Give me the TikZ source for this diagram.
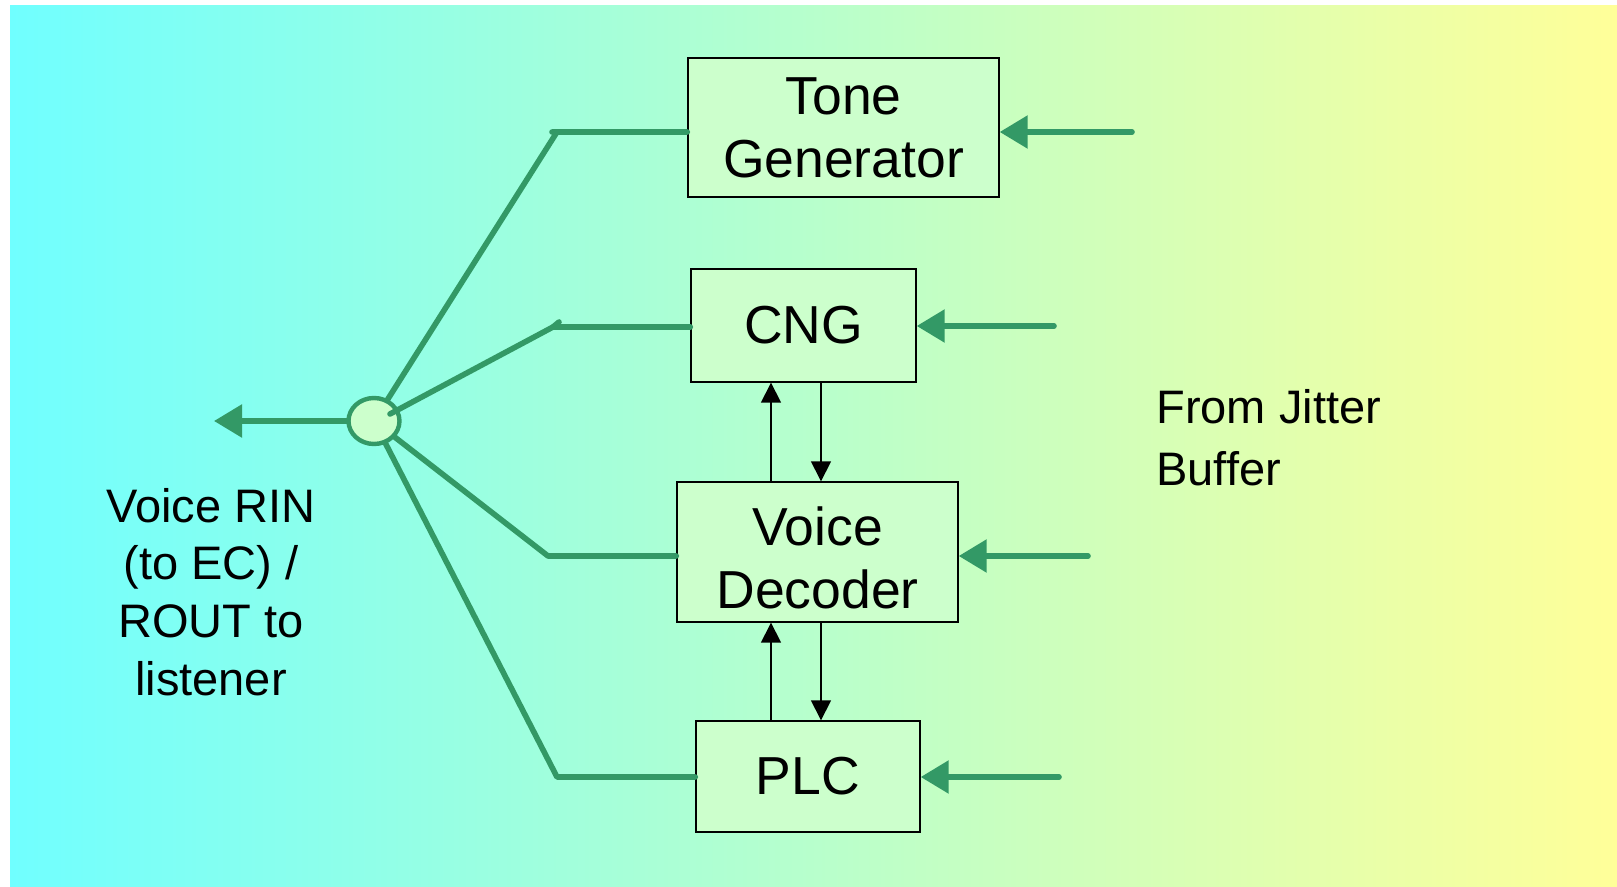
\documentclass[tikz,border=0pt]{standalone}
\usepackage{fontspec}
\setmainfont{Liberation Sans}
\usetikzlibrary{calc, arrows.meta, shapes.geometric}

\definecolor{bgcyan}{HTML}{70FFFF}
\definecolor{bgmid}{HTML}{B8FFCC}
\definecolor{bgyellow}{HTML}{FFFF99}
\definecolor{boxgreen}{HTML}{CCFFCC}
\definecolor{linegreen}{HTML}{339966}

\begin{document}
\begin{tikzpicture}[x=0.5pt, y=-0.5pt,
  block/.style={draw, line width=0.7pt, fill=boxgreen, align=center, inner sep=0pt,
    font=\fontsize{26.75}{31.5}\selectfont},
  feed/.style={color=linegreen, line width=2.8pt, line cap=round, line join=round},
  feedin/.style={feed, -{Triangle[length=14pt, width=16pt]}},
  ctl/.style={line width=0.8pt, -{Triangle[length=10pt, width=10pt]}},
  sidetext/.style={align=center, inner sep=0pt, font=\fontsize{23.5}{28.9}\selectfont}]

  \useasboundingbox (0,0) rectangle (1617,887);
  \shade[left color=bgcyan, middle color=bgmid, right color=bgyellow] (10,6) rectangle (1617,886);

  % playout blocks
  \node[block, minimum width=155.5pt, minimum height=69.5pt] (tone) at (843.5,127.5) {Tone\\Generator};
  \node[block, minimum width=112.5pt, minimum height=56.5pt] (cng) at (803.5,325.5) {CNG};
  \node[block, minimum width=140.5pt, minimum height=70pt] (dec) at (817.5,552)
    {\rule{0pt}{25pt}Voice\\Decoder};
  \node[block, minimum width=112pt, minimum height=55.5pt] (plc) at (808,776.5) {PLC};

  % summing point
  \node[ellipse, draw=linegreen, line width=2.2pt, fill=boxgreen, minimum width=25.5pt,
    minimum height=23pt, inner sep=0pt] (hub) at (374,421) {};

  \coordinate (out) at (214,421);
  \coordinate (kTone) at (557,132);
  \coordinate (kCng) at (553,327);
  \coordinate (kDec) at (548,556);
  \coordinate (kPlc) at (557,777);
  \coordinate (inTone) at (1132,132);
  \coordinate (inCng) at (1054,326);
  \coordinate (inDec) at (1088,556);
  \coordinate (inPlc) at (1059,777);
  \coordinate (upx) at (771,0);
  \coordinate (dnx) at (821,0);

  % output towards EC / listener
  \draw[feedin] (hub) -- (out);

  % fan-in to the summing point
  \draw[feed] (hub) -- (kTone) -- ++(-5,0) -- (kTone -| tone.west);
  \draw[feed] ($(hub.center)+(16,-7)$) -- (kCng) -- ++(6,-5);
  \draw[feed] (kCng) -- (kCng -| cng.west);
  \draw[feed] (hub) -- (kDec) -- (kDec -| dec.west);
  \draw[feed] (hub) -- (kPlc) -- (kPlc -| plc.west);

  % inputs from the jitter buffer
  \draw[feedin] (inTone) -- (inTone -| tone.east);
  \draw[feedin] (inCng) -- (inCng -| cng.east);
  \draw[feedin] (inDec) -- (inDec -| dec.east);
  \draw[feedin] (inPlc) -- (inPlc -| plc.east);

  % control between the blocks
  \draw[ctl] (dec.north -| upx) -- (cng.south -| upx);
  \draw[ctl] (cng.south -| dnx) -- (dec.north -| dnx);
  \draw[ctl] (plc.north -| upx) -- (dec.south -| upx);
  \draw[ctl] (dec.south -| dnx) -- (plc.north -| dnx);

  \node[sidetext] (rin) at (211,592) {Voice RIN\\(to EC) /\\ROUT to\\listener};
  \node[sidetext, align=left, anchor=west, font=\fontsize{23.5}{31}\selectfont] (jb) at (1156,438)
    {From Jitter\\Buffer};
\end{tikzpicture}
\end{document}
